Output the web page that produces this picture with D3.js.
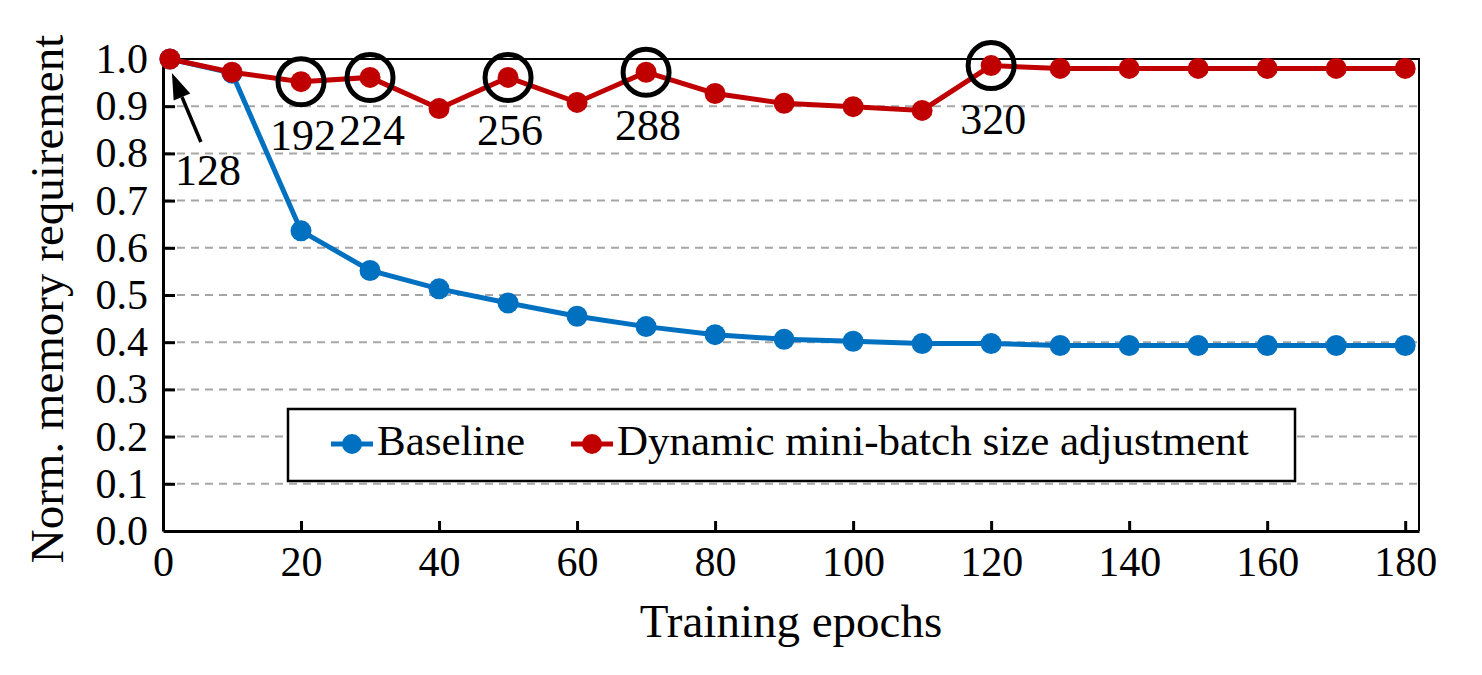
<!DOCTYPE html>
<html>
<head>
<meta charset="utf-8">
<script src="https://cdn.jsdelivr.net/npm/d3@7"></script>
<style>
  body { margin: 0; background: #fff; }
  svg { display: block; font-family: "Liberation Serif", "Times New Roman", serif; }
</style>
</head>
<body>
<div id="vis"></div>
<script>
// datos
const EPOCHS = [1, 10, 20, 30, 40, 50, 60, 70, 80, 90, 100, 110, 120, 130, 140, 150, 160, 170, 180];
const BASELINE = [1.0, 0.97, 0.636, 0.552, 0.513, 0.483, 0.455, 0.433, 0.416, 0.406, 0.402, 0.397, 0.397, 0.393, 0.393, 0.393, 0.393, 0.393, 0.393];
const DYNAMIC = [1.0, 0.972, 0.952, 0.961, 0.895, 0.961, 0.908, 0.972, 0.927, 0.906, 0.899, 0.891, 0.986, 0.98, 0.98, 0.98, 0.98, 0.98, 0.98];

const X_TICKS = [0, 20, 40, 60, 80, 100, 120, 140, 160, 180];
const Y_TICKS = [0, 0.1, 0.2, 0.3, 0.4, 0.5, 0.6, 0.7, 0.8, 0.9, 1.0];

// tamaños de mini-batch anotados
const BATCH_EPOCHS = [1, 20, 30, 50, 70, 120];
const BATCH_SIZES = ["128", "192", "224", "256", "288", "320"];

const SERIES = [
    { name: "Baseline", values: BASELINE, color: "#0070C0" },
    { name: "Dynamic mini-batch size adjustment", values: DYNAMIC, color: "#C00000" },
];

const WIDTH = 1482;
const HEIGHT = 675;

const MARGIN = { top: 59, bottom: 144, left: 163, right: 63 };

const SVG = d3.select("#vis").append("svg")
    .attr("width", WIDTH)
    .attr("height", HEIGHT);

const xScale = d3.scaleLinear()
    .domain([0, 182])
    .range([MARGIN.left, WIDTH - MARGIN.right]);

const yScale = d3.scaleLinear()
    .domain([0, 1])
    .range([HEIGHT - MARGIN.bottom, MARGIN.top]);

// lineas de grilla
SVG.append("g")
    .selectAll("line")
    .data(Y_TICKS.filter(d => d > 0 && d < 1))
    .join("line")
    .attr("x1", xScale.range()[0])
    .attr("x2", xScale.range()[1])
    .attr("y1", d => yScale(d))
    .attr("y2", d => yScale(d))
    .attr("stroke", "#A6A6A6")
    .attr("stroke-width", 2)
    .attr("stroke-dasharray", "8,6");

// marco superior y derecho
SVG.append("path")
    .attr("d", `M${xScale.range()[0]},${yScale(1)}H${xScale.range()[1]}V${yScale(0)}`)
    .attr("fill", "none")
    .attr("stroke", "black")
    .attr("stroke-width", 2);

const ejeX = SVG.append("g")
    .attr("transform", `translate(0, ${yScale(0)})`)
    .call(d3.axisBottom(xScale).tickValues(X_TICKS).tickSize(-10).tickSizeOuter(0).tickPadding(15));

const ejeY = SVG.append("g")
    .attr("transform", `translate(${xScale(0)}, 0)`)
    .call(d3.axisLeft(yScale).tickValues(Y_TICKS).tickFormat(d3.format(".1f")).tickSize(-12).tickSizeOuter(0).tickPadding(15));

[ejeX, ejeY].forEach(eje => {
    eje.select(".domain").attr("stroke-width", 3);
    eje.selectAll(".tick line").attr("stroke-width", 3);
    eje.selectAll(".tick text")
        .attr("font-size", 42)
        .attr("font-family", "Liberation Serif, Times New Roman, serif")
        .attr("fill", "black");
});
ejeY.selectAll(".tick").filter(d => d === 1 || d === 0).select("line").remove();
ejeX.selectAll(".tick").filter(d => d === 0).select("line").remove();

// titulos de ejes
SVG.append("text")
    .text("Training epochs")
    .attr("x", (xScale(0) + xScale(182)) / 2)
    .attr("y", 637)
    .attr("text-anchor", "middle")
    .attr("font-size", 47);

SVG.append("text")
    .text("Norm. memory requirement")
    .attr("transform", "rotate(270)")
    .attr("x", -299)
    .attr("y", 63)
    .attr("text-anchor", "middle")
    .attr("font-size", 47);

// leyenda
const legend = SVG.append("g");
legend.append("rect")
    .attr("x", 288)
    .attr("y", 409)
    .attr("width", 1007)
    .attr("height", 72)
    .attr("fill", "white")
    .attr("stroke", "black")
    .attr("stroke-width", 2.5);

const legendX = [352, 592];
legend.selectAll("g.item")
    .data(SERIES)
    .join("g")
    .attr("class", "item")
    .attr("transform", (d, i) => `translate(${legendX[i]}, 444)`)
    .each(function(d) {
        const g = d3.select(this);
        g.append("line")
            .attr("x1", -21).attr("x2", 21)
            .attr("stroke", d.color)
            .attr("stroke-width", 5);
        g.append("circle")
            .attr("r", 10)
            .attr("fill", d.color);
        g.append("text")
            .attr("x", 25)
            .attr("y", 11)
            .attr("font-size", 43)
            .text(d.name);
    });

// lineas y puntos
const line = d3.line()
    .x((d, i) => xScale(EPOCHS[i]))
    .y(d => yScale(d));

SERIES.forEach(s => {
    SVG.append("path")
        .datum(s.values)
        .attr("d", line)
        .attr("fill", "none")
        .attr("stroke", s.color)
        .attr("stroke-width", 5);

    SVG.append("g")
        .selectAll("circle")
        .data(s.values)
        .join("circle")
        .attr("cx", (d, i) => xScale(EPOCHS[i]))
        .attr("cy", d => yScale(d))
        .attr("r", 10.5)
        .attr("fill", s.color);
});

// anotaciones
const anotaciones = BATCH_EPOCHS.map((e, i) => ({
    epoch: e,
    label: BATCH_SIZES[i],
    value: DYNAMIC[EPOCHS.indexOf(e)],
}));

SVG.append("g")
    .selectAll("circle")
    .data(anotaciones.slice(1))
    .join("circle")
    .attr("cx", d => xScale(d.epoch))
    .attr("cy", d => yScale(d.value))
    .attr("r", 23)
    .attr("fill", "none")
    .attr("stroke", "black")
    .attr("stroke-width", 5);

SVG.append("g")
    .selectAll("text")
    .data(anotaciones)
    .join("text")
    .attr("x", (d, i) => xScale(d.epoch) + (i === 0 ? 38 : 2))
    .attr("y", (d, i) => yScale(d.value) + (i === 0 ? 126 : 68))
    .attr("text-anchor", "middle")
    .attr("font-size", 44)
    .text(d => d.label);

// flecha del 128
const p0 = anotaciones[0];
const tipX = xScale(p0.epoch) + 2;
const tipY = yScale(p0.value) + 14;
const tailX = xScale(p0.epoch) + 31;
const tailY = yScale(p0.value) + 83;
const ang = Math.atan2(tipY - tailY, tipX - tailX);
const headLen = 26;
const headW = 9;
const baseX = tipX - headLen * Math.cos(ang);
const baseY = tipY - headLen * Math.sin(ang);

SVG.append("line")
    .attr("x1", tailX).attr("y1", tailY)
    .attr("x2", baseX).attr("y2", baseY)
    .attr("stroke", "black")
    .attr("stroke-width", 3.5);

SVG.append("path")
    .attr("d", `M${tipX},${tipY}L${baseX + headW * Math.sin(ang)},${baseY - headW * Math.cos(ang)}L${baseX - headW * Math.sin(ang)},${baseY + headW * Math.cos(ang)}Z`)
    .attr("fill", "black");
</script>
</body>
</html>
